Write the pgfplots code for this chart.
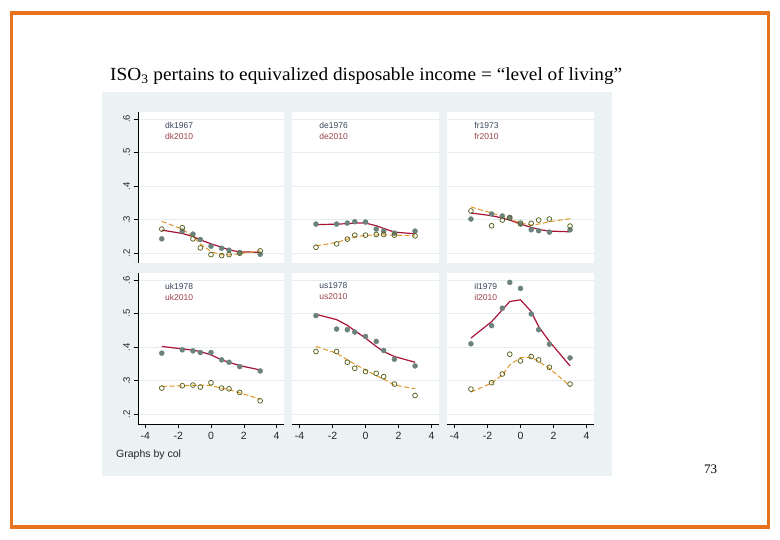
\documentclass[border=0pt]{standalone}
\usepackage{pgfplots}
\pgfplotsset{compat=1.18}
\usepackage{pgfplotstable}
\usepackage{graphicx}
\usepackage{fontspec}
\setmainfont{Liberation Sans}
\newfontfamily\timesfont{Liberation Serif}

\definecolor{bgcol}{RGB}{234,242,243}
\definecolor{orangeb}{RGB}{232,114,30}
\definecolor{dotcol}{RGB}{108,130,124}
\definecolor{opencol}{RGB}{88,98,30}
\definecolor{redline}{RGB}{170,20,55}
\definecolor{dashcol}{RGB}{225,150,40}
\definecolor{lab1}{RGB}{55,70,90}
\definecolor{lab2}{RGB}{155,65,70}
\definecolor{gridc}{RGB}{228,237,239}

% columns: x, filled (old year), red lowess, hollow (2010), dashed lowess
\pgfplotstableread{
x a al b bl
-3 .243 .269 .272 .295
-1.75 .266 .259 .276 .272
-1.1 .257 .250 .243 .250
-0.65 .241 .240 .216 .228
0 .221 .228 .196 .205
0.65 .215 .218 .193 .195
1.1 .209 .210 .196 .195
1.75 .202 .204 .200 .199
3 .197 .203 .207 .207
}\dk
\pgfplotstableread{
x a al b bl
-3 .287 .285 .218 .222
-1.75 .287 .287 .228 .232
-1.1 .290 .288 .242 .242
-0.65 .294 .290 .254 .249
0 .293 .290 .254 .253
0.65 .272 .282 .256 .255
1.1 .266 .274 .256 .255
1.75 .260 .263 .254 .254
3 .266 .258 .252 .252
}\de
\pgfplotstableread{
x a al b bl
-3 .302 .320 .326 .338
-1.75 .317 .312 .282 .320
-1.1 .311 .305 .299 .310
-0.65 .307 .299 .305 .302
0 .287 .287 .290 .290
0.65 .270 .277 .289 .284
1.1 .267 .271 .299 .287
1.75 .263 .266 .302 .294
3 .270 .264 .281 .303
}\fr
\pgfplotstableread{
x a al b bl
-3 .382 .402 .278 .283
-1.75 .392 .395 .285 .285
-1.1 .389 .391 .287 .286
-0.65 .384 .387 .281 .287
0 .384 .377 .294 .285
0.65 .362 .362 .278 .278
1.1 .355 .355 .276 .273
1.75 .342 .345 .265 .264
3 .329 .332 .240 .245
}\uk
\pgfplotstableread{
x a al b bl
-3 .494 .498 .387 .402
-1.75 .454 .482 .387 .382
-1.1 .452 .465 .355 .362
-0.65 .445 .449 .337 .349
0 .432 .427 .327 .332
0.65 .417 .402 .322 .315
1.1 .390 .387 .312 .305
1.75 .364 .372 .290 .287
3 .344 .355 .256 .276
}\us
\pgfplotstableread{
x a al b bl
-3 .410 .427 .275 .266
-1.75 .464 .476 .294 .293
-1.1 .516 .511 .320 .317
-0.65 .593 .536 .379 .347
0 .575 .541 .359 .369
0.65 .499 .506 .372 .370
1.1 .452 .461 .362 .357
1.75 .409 .417 .340 .337
3 .368 .344 .290 .284
}\il

\pgfplotsset{
  panel/.style={
    scale only axis, width=146pt, height=151pt,
    xmin=-4.45, xmax=4.45, ymin=0.171, ymax=0.621,
    axis background/.style={fill=white},
    ytick={0.2,0.3,0.4,0.5,0.6},
    ymajorgrids, major grid style={gridc, line width=0.9pt},
    axis lines*=left,
    tick align=outside, major tick length=4.5pt,
    tick style={black, line width=0.6pt},
    axis line style={black, line width=0.7pt},
    anchor=north west,
    ticklabel style={font=\fontsize{10.5}{11}\selectfont, text=black!85},
  },
  toprow/.style={xtick=\empty, x axis line style={draw=none}},
  botrow/.style={xtick={-4,-2,0,2,4}, xticklabels={-4,-2,0,2,4}},
  leftcol/.style={yticklabels={.2,.3,.4,.5,.6}, yticklabel style={rotate=90, anchor=south, font=\fontsize{9.5}{10}\selectfont}},
  othercol/.style={yticklabels={}, y axis line style={draw=none}, ytick style={draw=none}},
  dots/.style={only marks, mark=*, mark size=2.5pt, mark options={fill=dotcol, draw=dotcol}},
  hollow/.style={only marks, mark=o, mark size=2.4pt, mark options={draw=opencol, line width=0.75pt}},
  redl/.style={no marks, redline, line width=1.2pt},
  dashl/.style={no marks, dashcol, line width=1pt, dash pattern=on 5pt off 2.5pt},
}

\newcommand{\panelplots}[3]{%
  \addplot[dots] table[x=x,y=a] {#1};
  \addplot[redl] table[x=x,y=al] {#1};
  \addplot[hollow] table[x=x,y=b] {#1};
  \addplot[dashl] table[x=x,y=bl] {#1};
  \node[anchor=west, font=\fontsize{8.5}{9}\selectfont, text=lab1, inner sep=0pt] at (rel axis cs:0.185,0.914) {#2};
  \node[anchor=west, font=\fontsize{8.5}{9}\selectfont, text=lab2, inner sep=0pt] at (rel axis cs:0.185,0.841) {#3};
}

\begin{document}
\begin{tikzpicture}[x=1pt,y=1pt]
\useasboundingbox (0pt,0pt) rectangle (780pt,540pt);
\fill[white] (0pt,0pt) rectangle (780pt,540pt);
\draw[orangeb, line width=3.5pt] (11.5pt,13pt) rectangle (768.5pt,527pt);
\fill[bgcol] (102pt,64pt) rectangle (612pt,448pt);

\node[anchor=base west, inner sep=0pt] at (110pt,459pt)
  {\resizebox{512pt}{\height}{\timesfont\fontsize{18.5}{22}\selectfont ISO\textsubscript{3} pertains to equivalized disposable income = “level of living”}};

\begin{axis}[panel, toprow, leftcol, at={(138pt,428pt)}]
\panelplots{\dk}{dk1967}{dk2010}
\end{axis}
\begin{axis}[panel, toprow, othercol, width=147pt, at={(292pt,428pt)}]
\panelplots{\de}{de1976}{de2010}
\end{axis}
\begin{axis}[panel, toprow, othercol, width=147pt, at={(447pt,428pt)}]
\panelplots{\fr}{fr1973}{fr2010}
\end{axis}
\begin{axis}[panel, botrow, leftcol, at={(138pt,267pt)}]
\panelplots{\uk}{uk1978}{uk2010}
\end{axis}
\begin{axis}[panel, botrow, othercol, width=147pt, at={(292pt,267pt)}]
\panelplots{\us}{us1978}{us2010}
\end{axis}
\begin{axis}[panel, botrow, othercol, width=147pt, at={(447pt,267pt)}]
\panelplots{\il}{il1979}{il2010}
\end{axis}

\node[anchor=base west, inner sep=0pt, font=\fontsize{10.5}{12}\selectfont, text=black!85] at (116pt,82pt) {Graphs by col};
\node[anchor=base west, inner sep=0pt, font=\timesfont\fontsize{13}{15}\selectfont] at (704pt,66pt) {73};
\end{tikzpicture}
\end{document}
